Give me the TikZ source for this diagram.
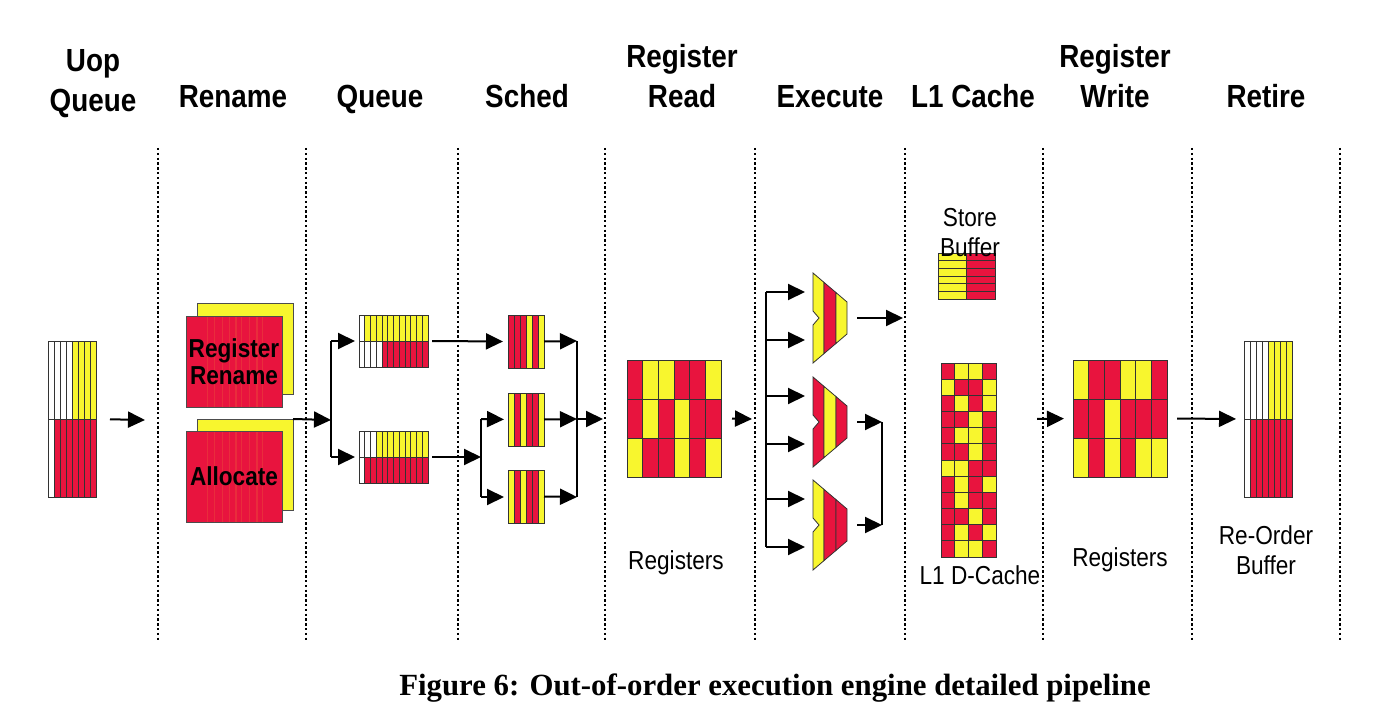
\documentclass[tikz,border=0pt]{standalone}
\usepackage{fontspec}
\setmainfont{Liberation Serif}
\newfontfamily\lblfont[FakeStretch=0.87]{Liberation Sans}
\usepackage{tikz}
\usetikzlibrary{positioning}
\usetikzlibrary{calc,arrows.meta}
\definecolor{R}{RGB}{232,20,62}
\definecolor{Y}{RGB}{248,246,46}
\colorlet{W}{white}
\tikzset{
	flow/.style = {-{Triangle[length=8.5pt,width=8pt]}, line width=1pt},
	wire/.style = {line width=1pt},
	stage/.style = {line width=1.2pt, dash pattern=on 1.2pt off 1.2pt},
	cell/.style = {draw=black!80, line width=0.4pt},
	block/.style 2 args = {draw=black!80, line width=0.4pt, inner sep=0pt,
		outer sep=0pt, minimum width=#1, minimum height=#2, anchor=north west},
	card/.style = {draw=black!70, line width=0.4pt, inner sep=0pt, outer sep=0pt,
		minimum width=48pt, minimum height=45.5pt, anchor=north west, align=center,
		font=\lblfont\fontsize{13}{13.5}\selectfont\bfseries},
	grain/.style = {path picture={
		\foreach \g in {0.22,0.3,0.38,0.45,0.52,0.58,0.66,0.74,0.8}
			\draw[R!75!Y, line width=0.6pt, opacity=0.45]
				($(path picture bounding box.north west)!\g!(path picture bounding box.north east)$)
				-- ++(0,-46pt);}},
	hdr/.style = {font=\lblfont\fontsize{16}{20}\selectfont\bfseries, align=center, anchor=base},
	lbl/.style = {font=\lblfont\fontsize{13}{15}\selectfont, align=center},
}
% rows of coloured cells inside a block, from its north west corner
\newcommand{\cellgrid}[4]{%
	\foreach \row [count=\j from 0] in {#4}
		\foreach \c [count=\i from 0] in \row
			\filldraw[cell, fill=\c] ($(#1.north west)+(\i*#2,\j*#3)$) rectangle ++(#2,#3);
}
% execution unit: name, centre y, three stripe colours
\newcommand{\alu}[5]{%
	\filldraw[cell, fill=#3] (813,#2-45) -- (824,#2-35.6) -- (824,#2+35.6) -- (813,#2+45)
		-- (813,#2+7) -- (819,#2) -- (813,#2-7) -- cycle;
	\filldraw[cell, fill=#4] (824,#2-35.6) -- (836,#2-25.4) -- (836,#2+25.4) -- (824,#2+35.6) -- cycle;
	\filldraw[cell, fill=#5] (836,#2-25.4) -- (847,#2-16) -- (847,#2+16) -- (836,#2+25.4) -- cycle;
	\coordinate (#1-a) at (805,#2-26);
	\coordinate (#1-b) at (805,#2+22);
	\coordinate (#1-o) at (857,#2);
}

\begin{document}
\begin{tikzpicture}[x=0.5pt, y=-0.5pt]
	\useasboundingbox (0,0) rectangle (1384,716);
	\foreach \sx in {158,306,458,605,755,905,1043,1192,1340}
		\draw[stage] (\sx,148) -- (\sx,640);

	% stage names
	\node (h1) [hdr] at (93,112) {Uop\\Queue};
	\node (h2) [hdr] at (233,108) {Rename};
	\node (h3) [hdr] at (380,108) {Queue};
	\node (h4) [hdr] at (527,108) {Sched};
	\node (h5) [hdr] at (682,108) {Register\\Read};
	\node (h6) [hdr] at (830,108) {Execute};
	\node (h7) [hdr] at (973,108) {L1 Cache};
	\node (h8) [hdr] at (1115,108) {Register\\Write};
	\node (h9) [hdr] at (1266,108) {Retire};

	% uop queue
	\node (uopq) [block={24pt}{78pt}] at (48,341) {};
	\cellgrid{uopq}{6}{78}{{W,W,W,W,Y,Y,Y,Y},{W,R,R,R,R,R,R,R}}

	% rename / allocate
	\node (renb) [card, fill=Y] at (197,303) {};
	\node (ren) [card, fill=R, grain] at (186,316) {Register\\Rename};
	\node (allb) [card, fill=Y] at (197,419) {};
	\node (all) [card, fill=R, grain] at (186,431) {Allocate};

	% queues
	\node (q1) [block={34.5pt}{26pt}] at (359,315) {};
	\cellgrid{q1}{5.75}{26}{{W,Y,Y,Y,Y,Y,Y,Y,Y,Y,Y,Y},{W,W,W,W,R,R,R,R,R,R,R,R}}
	\node (q2) [block={34.5pt}{26pt}] at (359,431) {};
	\cellgrid{q2}{5.75}{26}{{W,W,W,Y,Y,Y,Y,Y,Y,Y,Y,Y},{W,R,R,R,R,R,R,R,R,R,R,R}}

	% schedulers
	\node (s1) [block={18pt}{26.5pt}] at (508,315) {};
	\cellgrid{s1}{6}{53}{{R,R,R,Y,R,Y}}
	\node (s2) [block={18pt}{26.5pt}] at (508,393) {};
	\cellgrid{s2}{6}{53}{{Y,R,Y,R,R,Y}}
	\node (s3) [block={18pt}{26.5pt}] at (508,470) {};
	\cellgrid{s3}{6}{53}{{Y,R,Y,R,R,Y}}

	% register files
	\node (rr) [block={47pt}{58.5pt}] at (627,360) {};
	\cellgrid{rr}{15.67}{39}{{R,Y,Y,R,R,Y},{R,Y,R,Y,R,R},{Y,R,R,Y,R,Y}}
	\node (rrl) [lbl] at (676,563) {Registers};
	\node (rw) [block={47pt}{58.5pt}] at (1073,360) {};
	\cellgrid{rw}{15.67}{39}{{Y,R,R,Y,Y,R},{R,R,Y,R,R,R},{Y,R,Y,R,Y,Y}}
	\node (rwl) [lbl] at (1120,560) {Registers};

	% execution units
	\alu{x1}{318}{Y}{R}{Y}
	\alu{x2}{422}{R}{Y}{R}
	\alu{x3}{525}{Y}{R}{R}

	% L1 cache
	\node (stb) [block={28.5pt}{23pt}] at (938,253) {};
	\cellgrid{stb}{28.5}{7.67}{{Y,R},{Y,R},{Y,R},{Y,R},{Y,R},{Y,R}}
	\node (stbl) [lbl] at (970,233) {Store\\Buffer};
	\node (dc) [block={27.5pt}{97pt}] at (941,363) {};
	\cellgrid{dc}{13.75}{16.17}{{R,Y,Y,R},{Y,R,R,Y},{R,Y,R,Y},{R,R,Y,R},{R,Y,Y,R},{R,R,Y,R},
		{Y,Y,R,R},{R,Y,R,Y},{R,Y,R,R},{R,R,Y,R},{R,Y,R,Y},{R,Y,Y,R}}
	\node (dcl) [lbl] at (980,575) {L1 D-Cache};

	% re-order buffer
	\node (rob) [block={24pt}{78pt}] at (1244,341) {};
	\cellgrid{rob}{6}{78}{{W,W,W,W,Y,Y,Y,Y},{W,R,R,R,R,R,R,R}}
	\node (robl) [lbl] at (1266,550) {Re-Order\\Buffer};

	% junctions
	\coordinate (ui) at (145,420);
	\coordinate (qj) at (331,420);
	\coordinate (qt) at (331,341);
	\coordinate (qb) at (331,457);
	\coordinate (sj) at (481,457);
	\coordinate (st) at (481,419);
	\coordinate (sb) at (481,497);
	\coordinate (mt) at (577,341);
	\coordinate (mm) at (577,419);
	\coordinate (mb) at (577,497);
	\coordinate (rri) at (603,419);
	\coordinate (exi) at (752,419);
	\coordinate (et) at (766,292);
	\coordinate (eb) at (766,547);
	\coordinate (l1i) at (903,318);
	\coordinate (wt) at (882,422);
	\coordinate (wb) at (882,525);
	\coordinate (rwi) at (1037,419);

	% connectors
	\path (uopq.east) edge[flow, shorten <=7pt] (ui);
	\path (allb.north east) edge[flow] (qj);
	\draw[wire] (qt) -- (qb);
	\path (qt) edge[flow, shorten >=2pt] (q1.west);
	\path (qb) edge[flow, shorten >=2pt] (q2.west);
	\path (q1.east) edge[flow, shorten <=2pt, shorten >=2.5pt] (s1.west);
	\path (q2.east) edge[flow, shorten <=2pt] (sj);
	\draw[wire] (st) -- (sb);
	\path (st) edge[flow, shorten >=2pt] (s2.west);
	\path (sb) edge[flow, shorten >=2pt] (sb -| s3.west);
	\path (s1.east) edge[flow] (mt);
	\path (s2.east) edge[flow] (mm);
	\path (s3.east) edge[flow] (mb);
	\draw[wire] (mt) -- (mb);
	\path (mm) edge[flow] (rri);
	\path ($(rr.east)+(11,0)$) edge[flow] (exi);
	\draw[wire] (et) -- (eb);
	\foreach \u in {x1,x2,x3} {
		\path (et |- \u-a) edge[flow] (\u-a);
		\path (et |- \u-b) edge[flow] (\u-b);
	}
	\path (x1-o) edge[flow] (l1i);
	\path (x2-o) edge[flow] (wt);
	\path (x3-o) edge[flow] (wb);
	\draw[wire] (wt) -- (wb);
	\path (rwi) edge[flow, shorten >=4.5pt] (rw.west);
	\path (rw.east) edge[flow, shorten <=5pt, shorten >=4pt] (rob.west);

	\node (cap) [font=\bfseries\fontsize{15.4}{17}\selectfont] at (775,688)
		{Figure 6: Out-of-order execution engine detailed pipeline};
\end{tikzpicture}
\end{document}
